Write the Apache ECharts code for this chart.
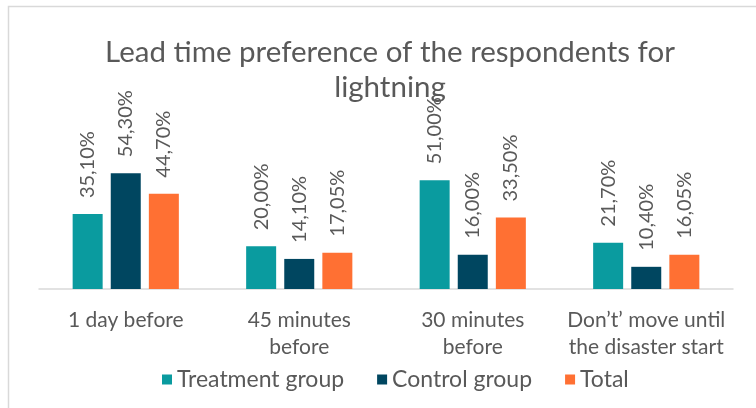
<!DOCTYPE html>
<html><head><meta charset="utf-8">
<script src="https://cdn.jsdelivr.net/npm/echarts@6/dist/echarts.min.js"></script>
<style>html,body{margin:0;padding:0;background:#fff}#c{width:756px;height:408px}</style>
</head><body><div id="c"></div>
<script>
const categories = ["1 day before", "45 minutes\nbefore", "30 minutes\nbefore", "Don’t’ move until\nthe disaster start"];
const seriesNames = ["Treatment group", "Control group", "Total"];
const treatment = [35.10, 20.00, 51.00, 21.70];
const control = [54.30, 14.10, 16.00, 10.40];
const total = [44.70, 17.05, 33.50, 16.05];
const colors = ["#0A9B9F", "#004660", "#FF7033"];
const FONT = "Lato";
const chart = echarts.init(document.getElementById('c'), null, {renderer: 'canvas'});
function mk(name, data, color) {
  return {
    name, type: 'bar', data, barWidth: 30, barGap: '27%',
    itemStyle: {color},
    label: {
      show: true, position: 'top', rotate: 90, align: 'left', verticalAlign: 'middle',
      distance: 16, color: '#595959', fontFamily: FONT, fontSize: 20,
      formatter: p => p.value.toFixed(2).replace('.', ',') + '%'
    }
  };
}
chart.setOption({
  animation: false,
  textStyle: {fontFamily: FONT},
  graphic: [{type: 'rect', shape: {x: 8.5, y: 6.5, width: 800, height: 500}, style: {fill: 'none', stroke: '#D9D9D9', lineWidth: 1.5}, silent: true}],
  title: {
    text: "Lead time preference of the respondents for\nlightning",
    left: 385, textAlign: 'center', top: 30,
    textStyle: {fontFamily: FONT, fontSize: 29.5, fontWeight: 'normal', color: '#595959', lineHeight: 35}
  },
  legend: {
    data: seriesNames, left: 157, top: 363, icon: 'rect', itemWidth: 10, itemHeight: 10, itemGap: 33,
    textStyle: {fontFamily: FONT, fontSize: 23, color: '#595959'}
  },
  grid: {left: 39, right: 23, top: 161, bottom: 119, outerBoundsMode: 'none'},
  xAxis: {
    type: 'category', data: categories,
    axisLine: {lineStyle: {color: '#D9D9D9', width: 1.5}},
    axisTick: {show: false},
    axisLabel: {color: '#595959', fontFamily: FONT, fontSize: 21, lineHeight: 27, margin: 18, interval: 0}
  },
  yAxis: {type: 'value', min: 0, max: 60, show: false, splitLine: {show: false}},
  series: [mk(seriesNames[0], treatment, colors[0]), mk(seriesNames[1], control, colors[1]), mk(seriesNames[2], total, colors[2])]
});
</script></body></html>
